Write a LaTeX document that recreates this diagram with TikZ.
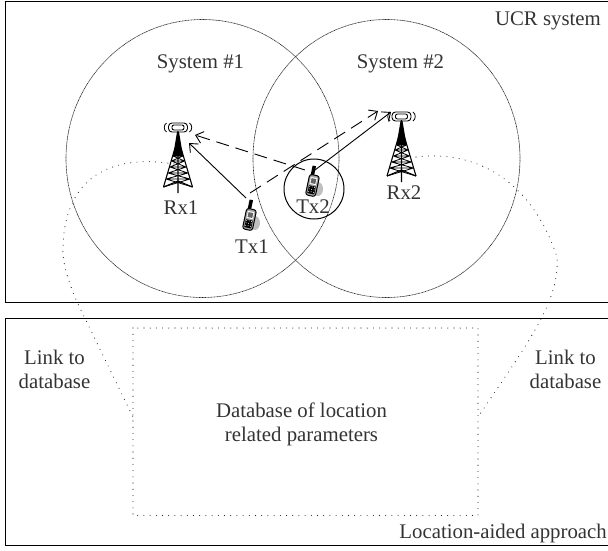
\documentclass[tikz,border=0pt]{standalone}
\usepackage{fontspec}
\setmainfont{Liberation Serif}
\usetikzlibrary{arrows.meta}
\definecolor{txt}{gray}{0.2}
\tikzset{
  x=1pt,y=-1pt,
  box/.style={draw=black,line width=1pt},
  cell/.style={draw=black!85,line width=0.6pt,dash pattern=on 1pt off 0.5pt},
  dots/.style={draw=black!85,line width=1.1pt,line cap=round,dash pattern=on 0pt off 6.2pt},
  label/.style={text=txt,font=\fontsize{20.8}{24}\selectfont,align=center,inner sep=0pt},
  link/.style={draw=black,line width=0.9pt,-{Straight Barb[length=7pt,width=12pt]}},
  dlink/.style={link,dash pattern=on 13pt off 7pt},
  tower/.pic={
    \fill (-1,-28) -- (1,-28) -- (5,-4) -- (-5,-4) -- cycle;
    \draw[line width=1.1pt] (-3,-12) -- (-14.5,27) (3,-12) -- (14.5,27) (0,-29) -- (0,33);
    \draw[line width=1.1pt] (-14.5,27) -- (0,21) -- (14.5,27);
    \draw[line width=0.8pt] (-5,-4) -- (5,-4) (-6.5,1) -- (6.5,1) (-8,7) -- (8,7) (-10,13) -- (10,13) (-12,19) -- (12,19)
      (-5,-4) -- (6.5,1) (5,-4) -- (-6.5,1) (-6.5,1) -- (8,7) (6.5,1) -- (-8,7) (-8,7) -- (10,13) (8,7) -- (-10,13)
      (-10,13) -- (12,19) (10,13) -- (-12,19) (-12,19) -- (14.5,27) (12,19) -- (-14.5,27);
    \draw[line width=0.9pt,rounded corners=3.5pt] (-9.5,-37) rectangle (9.5,-28);
    \draw[line width=0.9pt,rounded corners=2pt] (-6,-35) rectangle (6,-30);
    \draw[line width=0.8pt] (11.5,-37) .. controls (14.5,-35) and (14.5,-30) .. (11.5,-28)
      (-11.5,-37) .. controls (-14.5,-35) and (-14.5,-30) .. (-11.5,-28);
  },
  phone/.pic={
    \fill[black!25] (5,6) ellipse (5 and 7);
    \begin{scope}[rotate=-12]
    \fill (-4,-17) rectangle (-0.5,-7);
    \filldraw[draw=black,fill=black!35,line width=1pt,rounded corners=2.5pt] (-5,-8) rectangle (5,13);
    \fill[white] (-3.2,-5.5) rectangle (3.2,1.5);
    \fill[black!60] (-2.4,-4.5) rectangle (2.4,0.5);
    \fill (-3.5,3) rectangle (3.5,11);
    \foreach \yy in {4,6.5,9}{\fill[white] (-2.5,\yy) circle (0.5) (0,\yy) circle (0.5) (2.5,\yy) circle (0.5);}
    \end{scope}
  },
}
\begin{document}
\begin{tikzpicture}
\useasboundingbox (0,0) rectangle (608,550);
\draw[box] (5.5,1) rectangle (610,302.5);
\draw[box] (5.5,318) rectangle (610,545);
\draw[cell] (202.5,158.5) ellipse (136.5 and 139);
\draw[cell] (386.5,158.5) ellipse (133.5 and 139);
\draw[dots] (174,164) .. controls (120,155) and (65,170) .. (63,247) .. controls (62,265) and (70,285) .. (77,302) -- (133,417);
\draw[dots] (416,157) .. controls (470,150) and (530,175) .. (557,257) .. controls (560,300) and (530,340) .. (480,414);
\draw[dots] (133,328) rectangle (478,515.5);
\pic at (178,160) {tower};
\pic at (401.5,149) {tower};
\pic at (250,217) {phone};
\pic at (313,183) {phone};
\coordinate (tx1a) at (246,198);
\coordinate (tx1b) at (250,193);
\coordinate (tx2a) at (315,170);
\coordinate (tx2b) at (305,170);
\coordinate (rx1a) at (195,135);
\coordinate (rx1b) at (189,143);
\coordinate (rx2a) at (378,111);
\coordinate (rx2b) at (391,112);
\draw[link] (tx1a) -- (rx1b);
\draw[link] (tx2a) -- (rx2b);
\draw[dlink] (tx2b) -- (rx1a);
\draw[dlink] (tx1b) -- (rx2a);
\node[draw=black,circle,line width=1pt,minimum size=60pt,inner sep=0pt] (cell) at (314,189) {};
\node[label,anchor=base] at (200.5,68) {System \#1};
\node[label,anchor=base] at (400.5,68) {System \#2};
\node[label] (rx1) at (181,208) {Rx1};
\node[label] (rx2) at (404,193) {Rx2};
\node[label] (tx1t) at (252,247) {Tx1};
\node[label] (tx2t) at (313,207) {Tx2};
\node[label,anchor=base east] at (601,25) {UCR system};
\node[label,anchor=base east] at (607,538) {Location-aided approach};
\node[label] at (54.5,369) {Link to\\database};
\node[label] at (565.5,369) {Link to\\database};
\node[label] at (301.5,424) {Database of location\\related parameters};
\end{tikzpicture}
\end{document}
